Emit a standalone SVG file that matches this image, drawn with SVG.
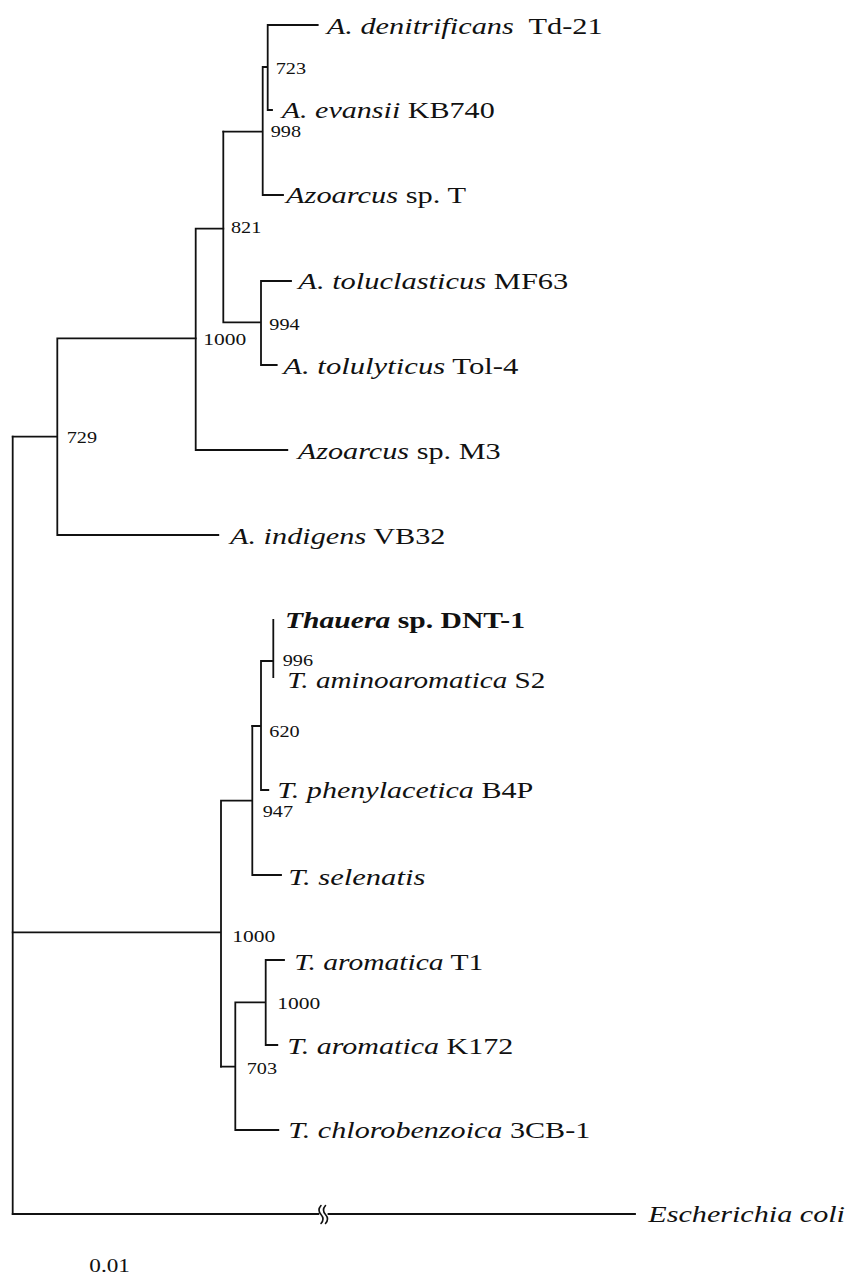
<svg xmlns="http://www.w3.org/2000/svg" width="853" height="1281" viewBox="0 0 853 1281">
<style>
.br{stroke:#111;stroke-width:1.8;fill:none;stroke-linecap:square}
.lab{font-family:"Liberation Serif","Times New Roman",serif;font-size:24px;fill:#111}
.it{font-style:italic}
.bs{font-family:"Liberation Serif","Times New Roman",serif;font-size:16px;fill:#111}
.sc{font-family:"Liberation Serif","Times New Roman",serif;font-size:19px;fill:#111}
</style>
<rect width="853" height="1281" fill="#fff"/>
<g id="connectors" class="br">
<path d="M12.7,436.7V1214"/>
<path d="M12.7,436.7H57.3M57.3,338.3V535M57.3,535H218.3M57.3,338.3H195.7"/>
<path d="M195.7,228.7V450M195.7,450H287.3M195.7,228.7H223.3"/>
<path d="M223.3,131.7V322.3M223.3,322.3H261M261,281V365M261,281H291M261,365H276.7"/>
<path d="M223.3,131.7H262.7M262.7,67V195M262.7,195H283M262.7,67H267.7M267.7,25V110M267.7,25H317.7M267.7,110H272"/>
<path d="M12.7,932.3H221M221,800.7V1066.7M221,800.7H252.3M252.3,726V875M252.3,875H281"/>
<path d="M252.3,726H261M261,661V790M261,790H268.3M261,661H273.3M273.3,620V677"/>
<path d="M221,1066.7H235.3M235.3,1002.3V1130M235.3,1130H278.3M235.3,1002.3H265.7M265.7,960V1045M265.7,960H284M265.7,1045H277.3"/>
<path d="M12.7,1214H318.3M328.5,1214H635"/>
<path d="M321,1205.5q-4,4.5 0,9t0,9M325.5,1205.5q-4,4.5 0,9t0,9" stroke-width="1.6" stroke-linecap="round"/>
</g>
<g id="leaf-denitrificans"><text class="lab" x="326.7" y="34" textLength="276" lengthAdjust="spacingAndGlyphs"><tspan class="it">A. denitrificans</tspan><tspan dx="6"> Td-21</tspan></text></g>
<g id="leaf-evansii"><text class="lab" x="281.7" y="118.3" textLength="213" lengthAdjust="spacingAndGlyphs"><tspan class="it">A. evansii</tspan> KB740</text></g>
<g id="leaf-azoarcusT"><text class="lab" x="286" y="203.3" textLength="180" lengthAdjust="spacingAndGlyphs"><tspan class="it">Azoarcus</tspan> sp. T</text></g>
<g id="leaf-toluclasticus"><text class="lab" x="298.3" y="289.3" textLength="270" lengthAdjust="spacingAndGlyphs"><tspan class="it">A. toluclasticus</tspan> MF63</text></g>
<g id="leaf-tolulyticus"><text class="lab" x="283.3" y="374.3" textLength="235" lengthAdjust="spacingAndGlyphs"><tspan class="it">A. tolulyticus</tspan> Tol-4</text></g>
<g id="leaf-azoarcusM3"><text class="lab" x="297.7" y="459" textLength="203" lengthAdjust="spacingAndGlyphs"><tspan class="it">Azoarcus</tspan> sp. M3</text></g>
<g id="leaf-indigens"><text class="lab" x="230" y="544" textLength="215.5" lengthAdjust="spacingAndGlyphs"><tspan class="it">A. indigens</tspan> VB32</text></g>
<g id="leaf-thaueraDNT1"><text class="lab" x="285" y="627.7" font-weight="bold" textLength="240" lengthAdjust="spacingAndGlyphs"><tspan class="it">Thauera</tspan> sp. DNT-1</text></g>
<g id="leaf-aminoaromatica"><text class="lab" x="287.3" y="687.5" textLength="258" lengthAdjust="spacingAndGlyphs"><tspan class="it">T. aminoaromatica</tspan> S2</text></g>
<g id="leaf-phenylacetica"><text class="lab" x="277.3" y="798" textLength="256" lengthAdjust="spacingAndGlyphs"><tspan class="it">T. phenylacetica</tspan> B4P</text></g>
<g id="leaf-selenatis"><text class="lab it" x="288.3" y="885" textLength="137" lengthAdjust="spacingAndGlyphs">T. selenatis</text></g>
<g id="leaf-aromaticaT1"><text class="lab" x="294.3" y="970" textLength="189" lengthAdjust="spacingAndGlyphs"><tspan class="it">T. aromatica</tspan> T1</text></g>
<g id="leaf-aromaticaK172"><text class="lab" x="287.3" y="1054" textLength="226" lengthAdjust="spacingAndGlyphs"><tspan class="it">T. aromatica</tspan> K172</text></g>
<g id="leaf-chlorobenzoica"><text class="lab" x="288.3" y="1138.3" textLength="302" lengthAdjust="spacingAndGlyphs"><tspan class="it">T. chlorobenzoica</tspan> 3CB-1</text></g>
<g id="leaf-ecoli"><text class="lab it" x="648.3" y="1221.7" textLength="196.7" lengthAdjust="spacingAndGlyphs">Escherichia coli</text></g>
<g id="bs-723"><text class="bs" x="275.7" y="74" textLength="30.3" lengthAdjust="spacingAndGlyphs">723</text></g>
<g id="bs-998"><text class="bs" x="270.7" y="136.5" textLength="30.3" lengthAdjust="spacingAndGlyphs">998</text></g>
<g id="bs-821"><text class="bs" x="231" y="233" textLength="30.3" lengthAdjust="spacingAndGlyphs">821</text></g>
<g id="bs-994"><text class="bs" x="269.3" y="330" textLength="30.3" lengthAdjust="spacingAndGlyphs">994</text></g>
<g id="bs-1000a"><text class="bs" x="203.3" y="345" textLength="43" lengthAdjust="spacingAndGlyphs">1000</text></g>
<g id="bs-729"><text class="bs" x="66.7" y="443" textLength="30.3" lengthAdjust="spacingAndGlyphs">729</text></g>
<g id="bs-996"><text class="bs" x="282.7" y="665.5" font-size="15" textLength="30.3" lengthAdjust="spacingAndGlyphs">996</text></g>
<g id="bs-620"><text class="bs" x="269.3" y="737" textLength="30.3" lengthAdjust="spacingAndGlyphs">620</text></g>
<g id="bs-947"><text class="bs" x="262.7" y="817" textLength="30.3" lengthAdjust="spacingAndGlyphs">947</text></g>
<g id="bs-1000b"><text class="bs" x="232.3" y="942" textLength="43" lengthAdjust="spacingAndGlyphs">1000</text></g>
<g id="bs-1000c"><text class="bs" x="277.3" y="1009" textLength="43" lengthAdjust="spacingAndGlyphs">1000</text></g>
<g id="bs-703"><text class="bs" x="246.7" y="1074" textLength="30.3" lengthAdjust="spacingAndGlyphs">703</text></g>
<g id="scale"><text class="sc" x="89.3" y="1271.7" textLength="40.7" lengthAdjust="spacingAndGlyphs">0.01</text></g>
</svg>
